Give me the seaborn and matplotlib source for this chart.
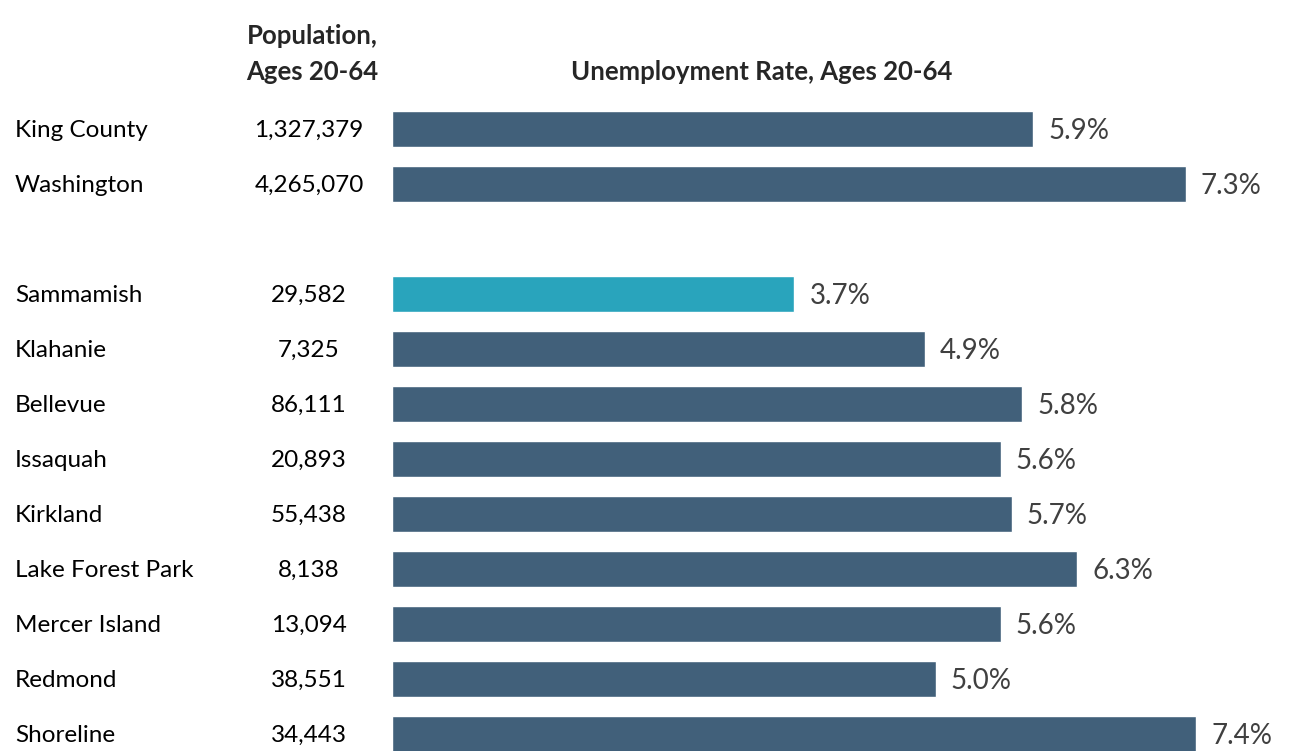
import matplotlib
matplotlib.use("Agg")
import matplotlib.pyplot as plt
import matplotlib.transforms as mtransforms
import pandas as pd
import seaborn as sns

# data
places = ["King County", "Washington", "Sammamish", "Klahanie", "Bellevue", "Issaquah",
          "Kirkland", "Lake Forest Park", "Mercer Island", "Redmond", "Shoreline"]
population = [1327379, 4265070, 29582, 7325, 86111, 20893, 55438, 8138, 13094, 38551, 34443]
unemployment = [5.9, 7.3, 3.7, 4.9, 5.8, 5.6, 5.7, 6.3, 5.6, 5.0, 7.4]
highlight = "Sammamish"

# blank row between the state/county and the cities
row_order = places[:2] + [" "] + places[2:]

dark = "#41607A"
teal = "#29A4BC"
palette = {p: (teal if p == highlight else dark) for p in places}

df = pd.DataFrame({"place": places, "rate": unemployment, "pop": population})

sns.set_style("white")
plt.rcParams["font.family"] = ["Lato", "DejaVu Sans"]

x0 = 392.0
fig = plt.figure(figsize=(12.93, 7.51), dpi=100)
ax = fig.add_axes([x0 / 1293, 0, 1 - x0 / 1293, 1])

sns.barplot(data=df, y="place", x="rate", hue="place", order=row_order, palette=palette,
            dodge=False, legend=False, width=0.64, orient="h", saturation=1, ax=ax)

px_per_unit = 108.7
ax.set_xlim(0, (1293 - x0) / px_per_unit)
ax.set_ylim(11.309, -2.345)
ax.axis("off")

pos = {p: i for i, p in enumerate(row_order)}
left = mtransforms.blended_transform_factory(fig.transFigure, ax.transData)

for p, v, n in zip(places, unemployment, population):
    y = pos[p]
    ax.text(v + 0.14, y + 0.03, f"{v:.1f}%", va="center", ha="left", fontsize=20, color="#404040")
    ax.text(15 / 1293, y + 0.03, p, transform=left, va="center", ha="left", fontsize=17.5,
            color="black")
    ax.text(309 / 1293, y + 0.03, f"{n:,}", transform=left, va="center", ha="center",
            fontsize=17.5, color="black")

ax.text(312 / 1293, -1.69, "Population,", transform=left, ha="center", va="center",
        fontsize=18.5, fontweight="bold")
ax.text(312 / 1293, -1.04, "Ages 20-64", transform=left, ha="center", va="center",
        fontsize=18.5, fontweight="bold")
ax.text(762 / 1293, -1.04, "Unemployment Rate, Ages 20-64", transform=left, ha="center",
        va="center", fontsize=18.5, fontweight="bold")

fig.savefig("out.png", dpi=100)
